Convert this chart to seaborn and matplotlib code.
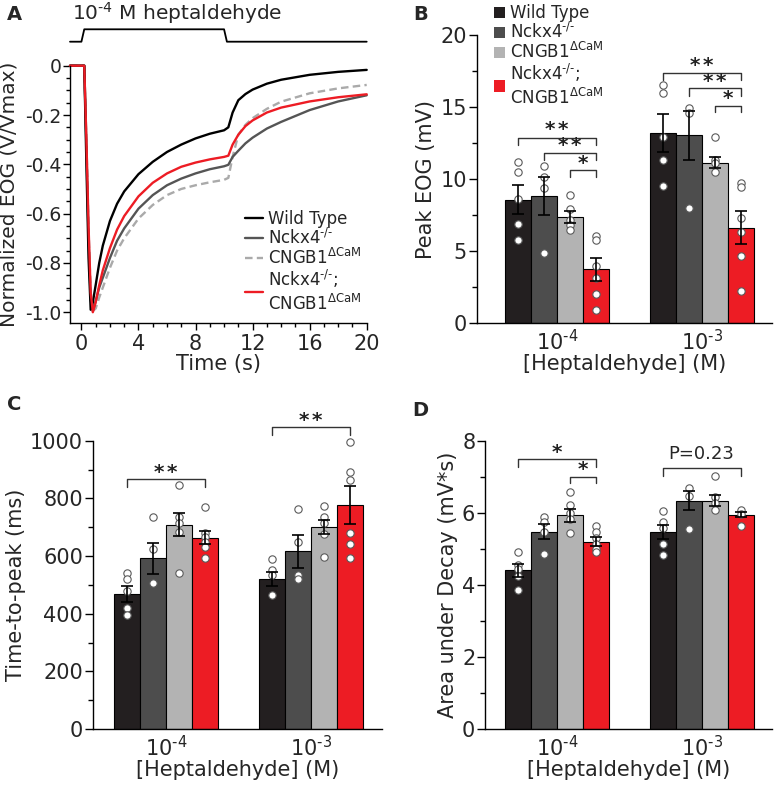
import numpy as np
import pandas as pd
import matplotlib
matplotlib.use("Agg")
import matplotlib.pyplot as plt
from matplotlib.ticker import MultipleLocator
from matplotlib.lines import Line2D
from matplotlib.patches import Patch
import seaborn as sns

# ---- data ----
geno_keys = ["WT", "Nckx4", "CNGB1", "DKO"]
geno_labels = ["Wild Type", "Nckx4$^{\\text{-/-}}$", "CNGB1$^{\\Delta\\text{CaM}}$",
               "Nckx4$^{\\text{-/-}}$;\nCNGB1$^{\\Delta\\text{CaM}}$"]
concs = ["10$^{\\text{-4}}$", "10$^{\\text{-3}}$"]

# panel A traces (normalized EOG)
time_s = [-0.8, 0.2, 0.35, 0.5, 0.65, 0.8, 1.0, 1.25, 1.5, 2, 2.5, 3, 4, 5, 6, 7, 8, 9, 10,
          10.3, 10.6, 11, 11.5, 12, 13, 14, 16, 18, 20]
eog_wt = [0, 0, -0.40, -0.78, -0.99, -0.96, -0.89, -0.80, -0.73, -0.63, -0.56, -0.51, -0.44, -0.39,
          -0.35, -0.32, -0.295, -0.276, -0.262, -0.25, -0.19, -0.14, -0.115, -0.097, -0.073, -0.057,
          -0.037, -0.025, -0.017]
eog_nckx4 = [0, 0, -0.33, -0.70, -0.95, -0.995, -0.955, -0.90, -0.86, -0.78, -0.71, -0.66, -0.58,
             -0.525, -0.485, -0.458, -0.437, -0.42, -0.408, -0.402, -0.37, -0.345, -0.315, -0.292,
             -0.255, -0.228, -0.18, -0.145, -0.12]
eog_cngb1 = [0, 0, -0.30, -0.66, -0.92, -0.995, -0.985, -0.94, -0.90, -0.82, -0.75, -0.70, -0.62,
             -0.565, -0.525, -0.50, -0.485, -0.473, -0.463, -0.455, -0.37, -0.28, -0.24, -0.213,
             -0.175, -0.146, -0.112, -0.092, -0.078]
eog_dko = [0, 0, -0.30, -0.65, -0.92, -1.0, -0.96, -0.89, -0.83, -0.74, -0.665, -0.61, -0.53, -0.475,
           -0.437, -0.41, -0.393, -0.38, -0.37, -0.365, -0.32, -0.28, -0.245, -0.222, -0.19, -0.17,
           -0.145, -0.128, -0.116]
stim_t = [-0.8, 0, 0.2, 10, 10.2, 20]
stim_on = [0, 0, 1, 1, 0, 0]

# panel B: peak EOG (mV)
peak_mean = [[8.58, 8.82, 7.35, 3.74], [13.22, 13.03, 11.13, 6.62]]
peak_sem = [[1.03, 1.31, 0.41, 0.78], [1.32, 1.70, 0.38, 1.14]]
peak_pts = [
    [[11.2, 10.5, 8.6, 6.9, 5.75], [10.9, 10.15, 9.4, 4.9], [8.9, 7.95, 7.2, 6.8, 6.5],
     [6.05, 5.75, 3.95, 3.15, 2.0, 0.92]],
    [[16.55, 16.0, 12.9, 11.3, 9.55], [14.95, 14.6, 8.0], [12.9, 11.35, 11.1, 10.5],
     [9.75, 9.45, 7.3, 6.35, 4.7, 2.25]],
]
# panel C: time-to-peak (ms)
ttp_mean = [[469, 592, 708, 664], [520, 616, 700, 776]]
ttp_sem = [[28, 54, 40, 24], [24, 57, 25, 66]]
ttp_pts = [
    [[542, 522, 480, 418, 395], [734, 625, 505], [845, 735, 715, 683, 540],
     [770, 680, 665, 650, 630, 592]],
    [[588, 552, 534, 465], [763, 650, 534, 519], [773, 736, 713, 675, 598],
     [997, 893, 864, 680, 642, 592]],
]
# panel D: area under decay (mV*s)
area_mean = [[4.40, 5.47, 5.93, 5.20], [5.46, 6.34, 6.34, 5.94]]
area_sem = [[0.19, 0.21, 0.18, 0.12], [0.20, 0.26, 0.15, 0.07]]
area_pts = [
    [[4.92, 4.55, 4.43, 4.25, 3.86], [5.88, 5.75, 5.48, 4.86], [6.58, 6.22, 6.0, 5.82, 5.43],
     [5.63, 5.48, 5.3, 5.12, 5.0, 4.9]],
    [[6.05, 5.75, 5.57, 5.12, 4.83], [6.68, 6.47, 5.54], [7.02, 6.43, 6.28, 6.08],
     [6.08, 5.96, 5.62]],
]

# significance brackets: (group, left bar, right bar, line y, drop y, stars, text y)
peak_sig = [(0, 0, 3, 12.83, 12.37, 2, 13.6), (0, 1, 3, 11.79, 11.33, 2, 12.45),
            (0, 2, 3, 10.64, 10.17, 1, 11.25),
            (1, 0, 3, 17.39, 16.88, 2, 18.05), (1, 1, 3, 16.3, 15.79, 2, 16.9),
            (1, 2, 3, 15.1, 14.64, 1, 15.7)]
ttp_sig = [(0, 0, 3, 866, 840, 2, 898), (1, 0, 3, 1049, 1020, 2, 1078)]
area_sig = [(0, 0, 3, 7.48, 7.28, 1, 7.74), (0, 2, 3, 7.0, 6.82, 1, 7.25)]
area_p_text = "P=0.23"
area_p_bracket = (1, 0, 3, 7.23, 7.02, 7.62)

bar_colors = ["#231f20", "#4d4d4d", "#b3b3b3", "#ed1c24"]
FS = 15      # tick labels and axis labels
LFS = 12     # legends

sns.set_style("ticks")
plt.rcParams["font.family"] = ["DejaVu Sans"]
plt.rcParams["mathtext.fontset"] = "dejavusans"
plt.rcParams["axes.unicode_minus"] = False
plt.rcParams["axes.linewidth"] = 1.0

fig = plt.figure(figsize=(7.75, 7.85), dpi=100)
W, H = 775.0, 785.0


def px_axes(left, top, right, bottom):
    return fig.add_axes([left / W, 1 - bottom / H, (right - left) / W, (bottom - top) / H])


def style_axis(ax):
    sns.despine(ax=ax)
    ax.tick_params(axis="both", which="major", labelsize=FS, length=6, width=1, color="black",
                   pad=1)
    ax.tick_params(axis="both", which="minor", length=3.5, width=1, color="black")
    for s in ["left", "bottom"]:
        ax.spines[s].set_color("black")


# ---------------- panel A ----------------
axA = px_axes(70, 65.7, 366.7, 323.3)
traces = [(eog_cngb1, "#aaaaaa", (0, (3.2, 1.8))), (eog_nckx4, "#555555", "-"),
          (eog_wt, "#000000", "-"), (eog_dko, "#ed1c24", "-")]
for vals, col, ls in traces:
    sns.lineplot(x=time_s, y=vals, ax=axA, color=col, linestyle=ls, lw=1.7, clip_on=False)
axA.set_xlim(-0.8, 20)
axA.set_ylim(-1.045, 0)
axA.set_xticks([0, 4, 8, 12, 16, 20])
axA.xaxis.set_minor_locator(MultipleLocator(1))
axA.set_yticks([-1.0, -0.8, -0.6, -0.4, -0.2, 0])
axA.set_yticklabels(["-1.0", "-0.8", "-0.6", "-0.4", "-0.2", "0"])
axA.yaxis.set_minor_locator(MultipleLocator(0.05))
style_axis(axA)
axA.tick_params(which="major", length=5)
axA.tick_params(which="minor", length=3)
axA.tick_params(axis="x", pad=3)
axA.tick_params(axis="y", labelsize=13.5)
axA.set_xlabel("Time (s)", fontsize=FS, labelpad=0)
axA.set_ylabel("Normalized EOG (V/Vmax)", fontsize=14.5)
axA.yaxis.set_label_coords(-0.172, 0.5)
handles = [Line2D([], [], color="#000000", lw=1.7), Line2D([], [], color="#555555", lw=1.7),
           Line2D([], [], color="#aaaaaa", lw=1.7, ls=(0, (3.2, 1.8))),
           Line2D([], [], color="#ed1c24", lw=1.7)]
axA.legend(handles, geno_labels, loc="upper left", bbox_to_anchor=(0.59, 0.44), frameon=False,
           fontsize=LFS, handlelength=1.05, handletextpad=0.35, labelspacing=0.0, borderpad=0,
           borderaxespad=0)

# stimulus trace above panel A
axS = px_axes(70, 29.3, 366.7, 41.7)
sns.lineplot(x=stim_t, y=stim_on, ax=axS, color="black", lw=1.3, clip_on=False)
axS.set_xlim(-0.8, 20)
axS.set_ylim(0, 1)
axS.axis("off")
fig.text(72 / W, 1 - 13 / H, "10$^{\\text{-4}}$ M heptaldehyde", fontsize=14.5, ha="left",
         va="center")


# ---------------- bar panels ----------------
def bar_panel(ax, means, sems, pts, sig, ylim, major, minor, ylabel, xlim):
    rows = []
    for ci, c in enumerate(concs):
        for gi, g in enumerate(geno_keys):
            rows.append({"conc": c, "geno": g, "value": means[ci][gi]})
    df = pd.DataFrame(rows)
    sns.barplot(data=df, x="conc", y="value", hue="geno", order=concs, hue_order=geno_keys,
                palette=dict(zip(geno_keys, bar_colors)), saturation=1, width=0.72, gap=0,
                errorbar=None, edgecolor="black", linewidth=0.8, legend=False, ax=ax)
    centers = sorted(p.get_x() + p.get_width() / 2 for p in ax.patches)
    for ci in range(2):
        for gi in range(4):
            x = centers[ci * 4 + gi]
            ys = pts[ci][gi]
            ax.scatter([x] * len(ys), ys, s=28, facecolor="white", edgecolor="#5a5a5a",
                       linewidth=0.8, zorder=4, clip_on=False)
    ax.errorbar(centers, [m for row in means for m in row], yerr=[s for row in sems for s in row],
                fmt="none", ecolor="black", elinewidth=1.2, capsize=4.3, capthick=1.2, zorder=5)
    for g, a, b, yl, yd, n, yt in sig:
        x1, x2 = centers[g * 4 + a], centers[g * 4 + b]
        ax.plot([x1, x1, x2, x2], [yd, yl, yl, yd], color="#333333", lw=1.0, clip_on=False)
        stars = "$\\mathbf{" + "{*}\\,{}" * (n - 1) + "{*}}$"
        ax.text((x1 + x2) / 2, yt, stars, ha="center", va="center", fontsize=14.5,
                color="#222222")
    ax.set_xlim(*xlim)
    ax.set_ylim(*ylim)
    ax.yaxis.set_major_locator(MultipleLocator(major))
    ax.yaxis.set_minor_locator(MultipleLocator(minor))
    style_axis(ax)
    ax.tick_params(axis="x", length=0, pad=4)
    ax.set_xlabel("[Heptaldehyde] (M)", fontsize=FS, labelpad=0)
    ax.set_ylabel(ylabel, fontsize=FS, labelpad=3)
    return centers


axB = px_axes(476.7, 35, 771.7, 323.3)
bar_panel(axB, peak_mean, peak_sem, peak_pts, peak_sig, (0, 20), 5, 2.5, "Peak EOG (mV)",
          (-0.559, 1.486))
sq = [Patch(facecolor=c, edgecolor="none") for c in bar_colors]
axB.legend(sq, geno_labels, loc="upper left", bbox_to_anchor=(494 / W, 1 - 4 / H),
           bbox_transform=fig.transFigure, frameon=False, fontsize=LFS, handlelength=0.65,
           handleheight=0.65, handletextpad=0.3, labelspacing=0.0, borderpad=0, borderaxespad=0)

axC = px_axes(92.7, 440.7, 381.7, 729)
bar_panel(axC, ttp_mean, ttp_sem, ttp_pts, ttp_sig, (0, 1000), 200, 100, "Time-to-peak (ms)",
          (-0.51, 1.493))

axD = px_axes(485, 440.7, 771.7, 729)
cD = bar_panel(axD, area_mean, area_sem, area_pts, area_sig, (0, 8), 2, 1,
               "Area under Decay (mV*s)", (-0.50, 1.486))
g, a, b, yl, yd, yt = area_p_bracket
x1, x2 = cD[g * 4 + a], cD[g * 4 + b]
axD.plot([x1, x1, x2, x2], [yd, yl, yl, yd], color="#333333", lw=1.0, clip_on=False)
axD.text((x1 + x2) / 2, yt, area_p_text, ha="center", va="center", fontsize=13)

for lab, x, y in [("A", 7, 15), ("B", 413, 15), ("C", 7, 404), ("D", 412, 411)]:
    fig.text(x / W, 1 - y / H, lab, fontsize=14, fontweight="bold", ha="left", va="center")

fig.savefig("out.png", dpi=100)
